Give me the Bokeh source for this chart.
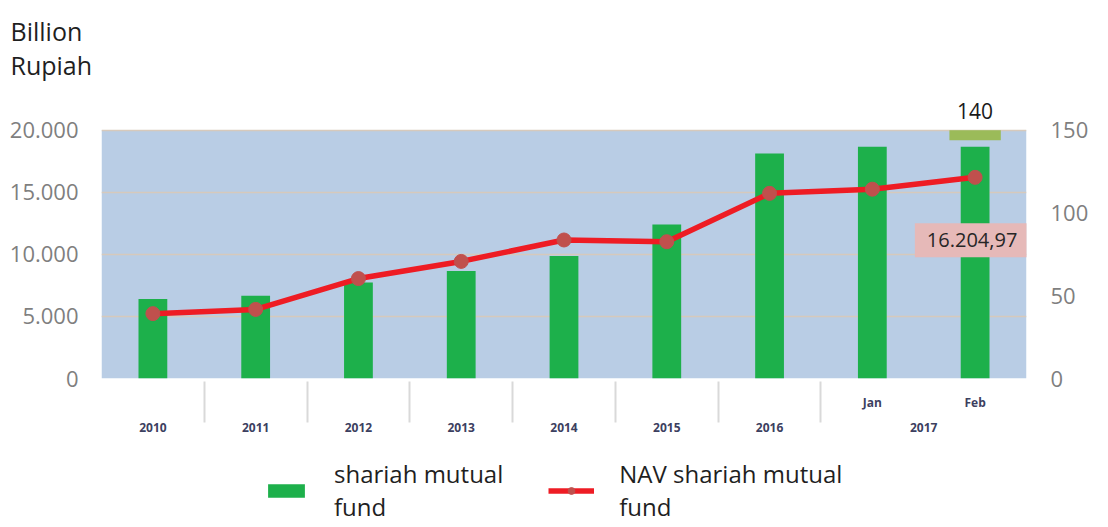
from bokeh.plotting import figure
from bokeh.layouts import column
from bokeh.models import (FactorRange, Range1d, LinearAxis, FixedTicker, ColumnDataSource,
                          Label, Legend, LegendItem, BoxAnnotation)
from bokeh.embed import file_html
from bokeh.resources import INLINE

# ---- data ----
years = ["2010", "2011", "2012", "2013", "2014", "2015", "2016", "2017", "2017"]
months = ["", "", "", "", "", "", "", "Jan", "Feb"]
fund_count = [48, 50, 58, 65, 74, 93, 136, 140, 140]
nav = [5225.78, 5564.79, 8050.07, 9432.19, 11158.00, 11019.43, 14914.63, 15250.00, 16204.97]
left_ticks = [0, 5000, 10000, 15000, 20000]
left_tick_labels = ["0", "5.000", "10.000", "15.000", "20.000"]
right_ticks = [0, 50, 100, 150]
series_names = ["shariah mutual\nfund", "NAV shariah mutual\nfund"]

FONT = "Open Sans"
BLUE = "#B9CDE5"
GREEN = "#1DB04B"
RED = "#EE1C24"
MARK = "#C0504D"

def id_fmt(v):
    s = f"{v:,.2f}"
    return s.replace(",", "X").replace(".", ",").replace("X", ".")

factors = list(zip(years, months))
src = ColumnDataSource(dict(x=factors, count=fund_count, nav=nav))

x_range = FactorRange(factors=factors, range_padding=0, group_padding=0,
                      subgroup_padding=0, factor_padding=0)
last_pos = len(factors) - 0.5   # synthetic centre of the last category

# frame: shaded value area is 250 px tall, 38 px of headroom above it for the label
AREA_H, HEAD = 250, 38
ratio = (AREA_H + HEAD) / AREA_H

p = figure(x_range=x_range, y_range=Range1d(left_ticks[0], left_ticks[-1] * ratio),
           width=1108, height=448,
           min_border_left=101, min_border_right=82, min_border_top=90, min_border_bottom=70,
           output_backend="svg", toolbar_location=None,
           background_fill_color="white", border_fill_color="white",
           outline_line_color=None)

p.extra_y_ranges = {"count": Range1d(right_ticks[0], right_ticks[-1] * ratio)}

# shaded plot area (0 .. 20.000)
box = BoxAnnotation(bottom=left_ticks[0], top=left_ticks[-1], fill_color=BLUE, fill_alpha=1,
                    line_color=None, level="underlay")
p.center.insert(0, box)

# title
p.title.text = "Billion\nRupiah"
p.title.align = "left"
p.title.offset = -91
p.title.standoff = 22
p.title.text_font = FONT
p.title.text_font_size = "25px"
p.title.text_font_style = "normal"
p.title.text_color = "#1F1F1F"
p.title.text_line_height = 1.0

# left axis
la = p.left[0]
la.ticker = FixedTicker(ticks=left_ticks)
la.major_label_overrides = {t: l for t, l in zip(left_ticks, left_tick_labels)}
la.axis_line_color = None
la.major_tick_line_color = None
la.minor_tick_line_color = None
la.major_label_text_font = FONT
la.major_label_text_font_size = "22px"
la.major_label_text_color = "#7F7F7F"
la.major_label_standoff = 17

ra = LinearAxis(y_range_name="count", ticker=FixedTicker(ticks=right_ticks))
ra.axis_line_color = None
ra.major_tick_line_color = None
ra.minor_tick_line_color = None
ra.major_label_text_font = FONT
ra.major_label_text_font_size = "22px"
ra.major_label_text_color = "#7F7F7F"
ra.major_label_standoff = 18
p.add_layout(ra, "right")

# bottom categorical axis
xa = p.below[0]
xa.axis_line_color = None
xa.major_tick_line_color = None
xa.minor_tick_line_color = None
xa.major_label_text_font = FONT
xa.major_label_text_font_size = "12px"
xa.major_label_text_font_style = "bold"
xa.major_label_text_color = "#3C4060"
xa.major_label_standoff = 9
xa.group_text_font = FONT
xa.group_text_font_size = "12px"
xa.group_text_font_style = "bold"
xa.group_text_color = "#3C4060"
xa.separator_line_color = "#D9D9D9"
xa.separator_line_width = 2

p.xgrid.visible = False
p.ygrid.ticker = FixedTicker(ticks=left_ticks)
p.ygrid.grid_line_color = "#D6C9BC"
p.ygrid.grid_line_width = 1.5

p.vbar(x="x", top="count", width=0.28, source=src, y_range_name="count",
       fill_color=GREEN, line_color=None)
p.line(x="x", y="nav", source=src, line_color=RED, line_width=5.5)
p.scatter(x="x", y="nav", source=src, size=14, fill_color=MARK, line_color=MARK)

# small green cap just under the top of the shaded area, above the last bar
p.vbar(x=[factors[-1]], top=[right_ticks[-1]], bottom=[right_ticks[-1] - 6], width=0.5,
       y_range_name="count", fill_color="#9BBB59", line_color=None)

p.add_layout(Label(x=last_pos, y=fund_count[-1], y_range_name="count",
                   text=str(fund_count[-1]), text_align="center", text_baseline="middle",
                   y_offset=36, text_font=FONT, text_font_size="21px", text_color="#1A1A1A"))

p.add_layout(Label(x=last_pos, y=nav[-1], text=id_fmt(nav[-1]),
                   text_align="center", text_baseline="middle", x_offset=-3, y_offset=-63,
                   text_font=FONT, text_font_size="20px", text_color="#262626",
                   background_fill_color="#E6B9B8", padding=(12, 10)))

# ---- legend strip (separate small figure under the chart) ----
lg = figure(width=1108, height=79, x_range=Range1d(0, 1), y_range=Range1d(0, 1),
            x_axis_location=None, y_axis_location=None, min_border=0,
            output_backend="svg", toolbar_location=None, outline_line_color=None,
            background_fill_color="white", border_fill_color="white")
lg.grid.visible = False
idx = list(range(len(nav)))
# hidden proxies carrying the series styles (only their legend glyphs are shown)
r_bar = lg.vbar(x=idx, top=fund_count, width=0.1, fill_color=GREEN, line_color=None,
                visible=False)
r_line = lg.line(x=idx, y=nav, line_color=RED, line_width=5.5, visible=False)
r_mark = lg.scatter(x=idx, y=nav, size=14, fill_color=MARK, line_color=MARK, visible=False)

legend = Legend(items=[LegendItem(label=series_names[0], renderers=[r_bar]),
                       LegendItem(label=series_names[1], renderers=[r_line, r_mark])],
                orientation="horizontal", location=(162, 4),
                glyph_width=46, glyph_height=17, spacing=45,
                label_text_font=FONT, label_text_font_size="24px", label_text_color="#1F1F1F",
                label_text_line_height=0.9,
                label_standoff=25, padding=0, margin=0, border_line_color=None,
                background_fill_alpha=0, inactive_fill_alpha=0)
lg.add_layout(legend)

layout = column(p, lg, spacing=0)
open("out.html", "w").write(file_html(layout, INLINE))
